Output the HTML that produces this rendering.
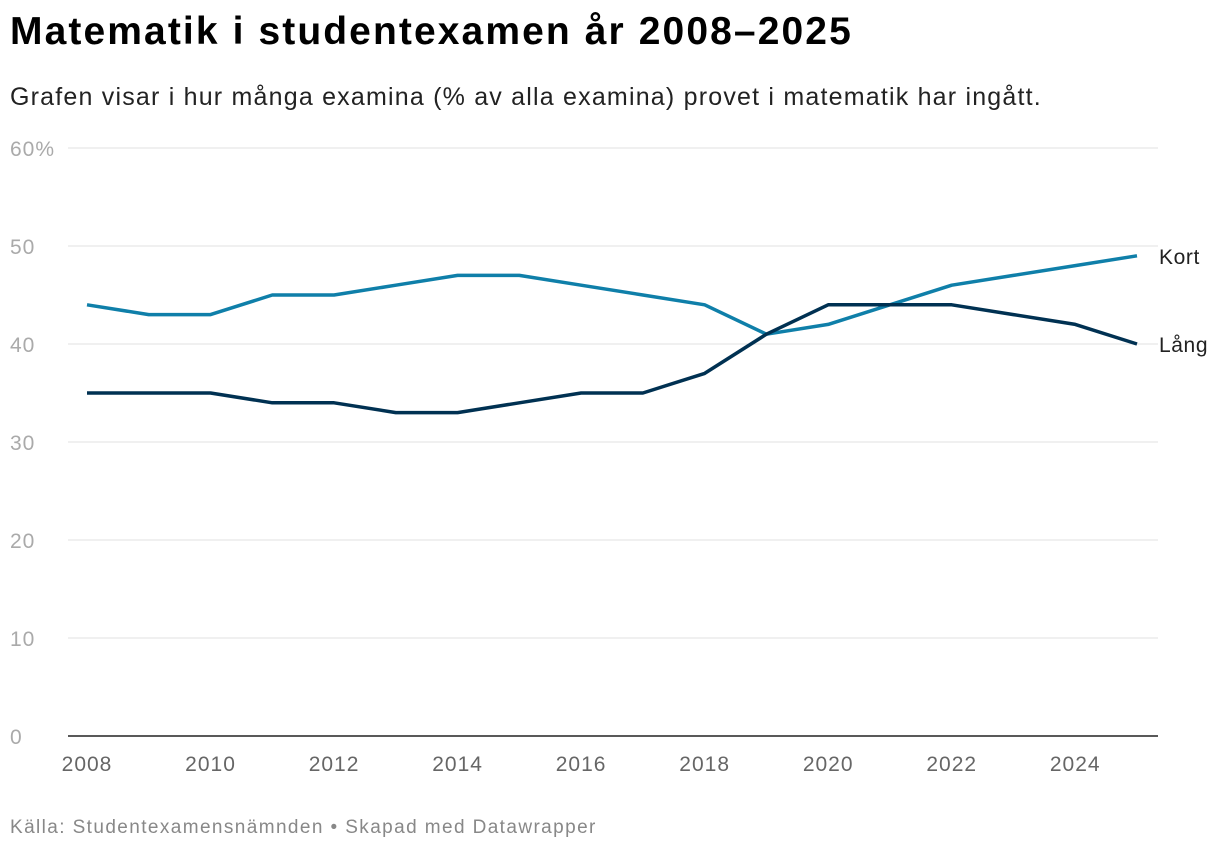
<!DOCTYPE html>
<html><head><meta charset="utf-8"><style>
body{margin:0;background:#fff;font-family:"Liberation Sans",sans-serif;}
#wrap{position:relative;width:1220px;height:852px;overflow:hidden}
h1{position:absolute;left:10px;top:10px;margin:0;font-size:39px;font-weight:bold;color:#000;letter-spacing:2.1px}
.sub{position:absolute;left:10px;top:83px;font-size:25px;color:#222;letter-spacing:1.2px}
.src{position:absolute;left:10px;top:817px;font-size:19px;color:#888;letter-spacing:1.4px}
</style></head><body>
<div id="wrap">
<h1>Matematik i studentexamen år 2008–2025</h1>
<div class="sub">Grafen visar i hur många examina (% av alla examina) provet i matematik har ingått.</div>
<svg id="chart" width="1220" height="852" style="position:absolute;left:0;top:0"></svg>
<div class="src">Källa: Studentexamensnämnden • Skapad med Datawrapper</div>
</div>
<script>
const years=[2008,2009,2010,2011,2012,2013,2014,2015,2016,2017,2018,2019,2020,2021,2022,2023,2024,2025];
const kort=[44,43,43,45,45,46,47,47,46,45,44,41,42,44,46,47,48,49];
const lang=[35,35,35,34,34,33,33,34,35,35,37,41,44,44,44,43,42,40];
const yTicks=[0,10,20,30,40,50,60];
const xTicks=[2008,2010,2012,2014,2016,2018,2020,2022,2024];
const NS="http://www.w3.org/2000/svg";
const svg=document.getElementById('chart');
const x=v=>87+(v-2008)*(1137-87)/17;
const y=v=>736-v*9.8;
function mk(t,a){const e=document.createElementNS(NS,t);for(const k in a)e.setAttribute(k,a[k]);svg.appendChild(e);return e;}
yTicks.forEach(t=>{
  if(t>0){const l=mk('line',{x1:68,x2:1158,y1:y(t),y2:y(t),stroke:'#e0e0e0','stroke-width':1});
  
  }
  const tx=mk('text',{x:10,y:y(t)+8,'font-size':21,fill:'#aaa','letter-spacing':1,'font-family':'Liberation Sans, sans-serif'});
  tx.textContent=t===60?'60%':String(t);
  
  
});
const base=mk('line',{x1:68,x2:1158,y1:736,y2:736,stroke:'#222','stroke-width':1.5});


xTicks.forEach(t=>{
  const tx=mk('text',{x:x(t),y:771,'font-size':21,fill:'#666','text-anchor':'middle','letter-spacing':1,'font-family':'Liberation Sans, sans-serif'});
  tx.textContent=t;
  
  
});
function series(vals,color,name,label){
  const p=mk('polyline',{points:vals.map((v,i)=>x(years[i])+','+y(v)).join(' '),fill:'none',stroke:color,'stroke-width':3.5,'stroke-linejoin':'round'});
  
  
  const t=mk('text',{x:1159,y:y(vals[vals.length-1])+8,'font-size':21,fill:'#222','letter-spacing':0.6,'font-family':'Liberation Sans, sans-serif'});
  t.textContent=label;
  
  
}
series(kort,'#0f7fa9','kort','Kort');
series(lang,'#003152','lang','Lång');
</script>
</body></html>
